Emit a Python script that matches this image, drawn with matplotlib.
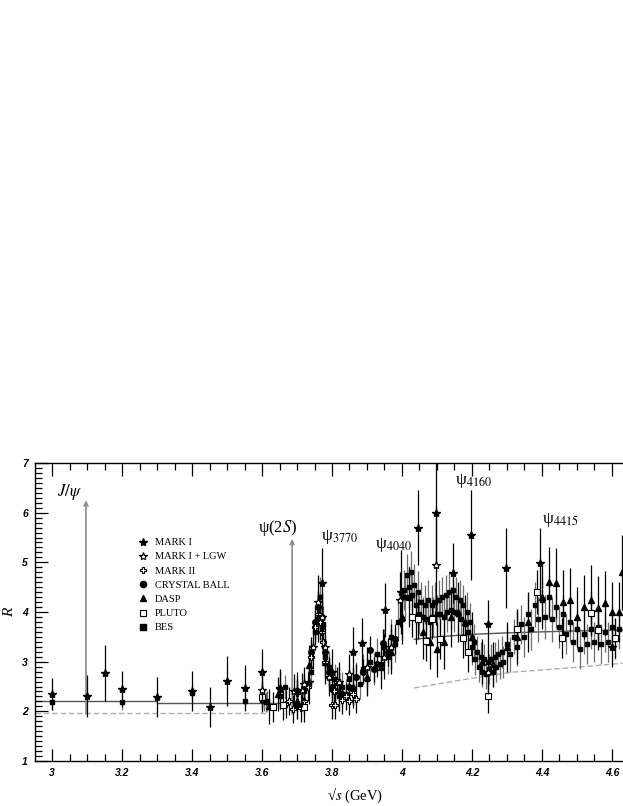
import matplotlib
matplotlib.use("Agg")
import matplotlib.pyplot as plt
from matplotlib.lines import Line2D
from matplotlib.ticker import FixedLocator, MultipleLocator, FixedFormatter

plt.rcParams['mathtext.fontset'] = 'stix'

# ---------------- data ----------------
mark1_E = [3.0, 3.1, 3.15, 3.2, 3.3, 3.4, 3.45, 3.5, 3.55, 3.6, 3.65, 3.70, 3.735,
           3.77, 3.80, 3.86, 3.885, 3.952, 3.997, 4.046, 4.097, 4.146, 4.196,
           4.246, 4.296, 4.394, 4.60]
mark1_R = [2.35, 2.31, 2.77, 2.45, 2.29, 2.41, 2.09, 2.61, 2.47, 2.79, 2.45, 2.40, 2.60,
           4.58, 2.80, 3.20, 3.37, 4.04, 4.40, 5.70, 6.00, 4.78, 5.55,
           3.75, 4.89, 4.99, 3.30]
mark1_err = [0.32, 0.42, 0.56, 0.37, 0.40, 0.40, 0.40, 0.50, 0.47, 0.47, 0.40, 0.40, 0.45,
             0.70, 0.45, 0.50, 0.50, 0.55, 0.85, 0.75, 1.20, 0.60, 0.90,
             0.50, 0.80, 0.70, 0.40]

lgw_E = [3.60, 3.65, 3.69, 3.714, 3.72, 3.745, 3.76, 3.772, 3.78, 3.79, 3.82, 3.85,
         3.90, 3.95, 3.97, 3.994, 4.097, 4.246]
lgw_R = [2.43, 2.47, 2.40, 2.43, 2.55, 3.30, 4.20, 3.90, 3.30, 2.70, 2.60, 2.75,
         2.90, 3.10, 3.30, 4.25, 4.94, 2.80]
lgw_err = [0.35, 0.35, 0.35, 0.35, 0.35, 0.45, 0.55, 0.50, 0.45, 0.40, 0.40, 0.40,
           0.40, 0.45, 0.45, 0.55, 1.20, 0.45]

mk2_E = [3.668, 3.676, 3.689, 3.700, 3.710, 3.720, 3.730, 3.740, 3.750, 3.760, 3.765,
         3.770, 3.775, 3.780, 3.790, 3.800, 3.805, 3.810, 3.815, 3.820, 3.830, 3.840,
         3.850, 3.860, 3.870]
mk2_R = [2.15, 2.20, 2.05, 2.36, 2.07, 2.20, 2.50, 3.10, 3.70, 3.95, 3.80,
         3.60, 3.40, 3.00, 2.70, 2.12, 2.40, 2.13, 2.60, 2.60, 2.23, 2.30,
         2.20, 2.35, 2.25]
mk2_err = [0.28, 0.28, 0.28, 0.28, 0.28, 0.28, 0.30, 0.32, 0.35, 0.38, 0.36,
           0.35, 0.34, 0.32, 0.30, 0.28, 0.28, 0.28, 0.30, 0.30, 0.28, 0.28,
           0.28, 0.28, 0.28]

cb_E = [3.70, 3.72, 3.74, 3.75, 3.76, 3.77, 3.78, 3.79, 3.80, 3.81, 3.83, 3.85,
        3.87, 3.89, 3.91, 3.92, 3.93, 3.945, 3.96, 3.98]
cb_R = [2.40, 2.50, 3.20, 3.80, 4.10, 3.90, 3.20, 2.80, 2.50, 2.40, 2.35, 2.50,
        2.70, 2.80, 3.24, 2.85, 2.95, 3.37, 3.20, 3.45]
cb_err = [0.25, 0.25, 0.30, 0.35, 0.35, 0.35, 0.30, 0.28, 0.25, 0.25, 0.25, 0.25,
          0.25, 0.25, 0.28, 0.25, 0.25, 0.28, 0.28, 0.30]

dasp_E = [3.62, 3.646, 3.70, 3.735, 3.76, 3.78, 3.82, 3.86, 3.90, 3.94, 3.97, 4.00,
          4.02, 4.04, 4.06, 4.08, 4.10, 4.12, 4.14, 4.16, 4.18, 4.20, 4.23, 4.26,
          4.30, 4.33, 4.36, 4.40, 4.42, 4.44, 4.46, 4.48, 4.50, 4.52, 4.54, 4.56,
          4.58, 4.60, 4.62, 4.628]
dasp_R = [2.10, 2.35, 2.20, 2.93, 3.90, 3.00, 2.40, 2.50, 2.70, 2.90, 3.20, 3.90,
          4.30, 3.90, 3.60, 3.40, 3.25, 3.40, 3.90, 4.00, 3.80, 3.50, 3.00, 2.95,
          3.30, 3.50, 3.80, 4.30, 4.60, 4.58, 4.20, 4.24, 3.90, 4.10, 4.24, 4.08,
          4.18, 4.00, 4.00, 4.80]
dasp_err = [0.35, 0.35, 0.35, 0.40, 0.50, 0.45, 0.40, 0.40, 0.40, 0.45, 0.45, 0.55,
            0.60, 0.55, 0.55, 0.55, 0.55, 0.55, 0.60, 0.60, 0.55, 0.50, 0.45, 0.45,
            0.50, 0.55, 0.60, 0.65, 0.70, 0.70, 0.65, 0.65, 0.60, 0.65, 0.70, 0.65,
            0.65, 0.60, 0.60, 0.75]

pluto_E = [3.60, 3.63, 3.66, 3.72, 4.03, 4.046, 4.07, 4.085, 4.11, 4.175, 4.189,
           4.246, 4.33, 4.386, 4.456, 4.54, 4.56, 4.61]
pluto_R = [2.29, 2.08, 2.13, 2.08, 3.90, 3.86, 3.42, 3.85, 3.45, 3.48, 3.20,
           2.31, 3.66, 4.40, 3.48, 3.97, 3.63, 3.48]
pluto_err = [0.30, 0.30, 0.30, 0.30, 0.40, 0.40, 0.40, 0.40, 0.40, 0.40, 0.40,
             0.35, 0.40, 0.45, 0.40, 0.45, 0.40, 0.40]

bes_E = [3.00, 3.20, 3.40, 3.55, 3.600, 3.605, 3.610, 3.615, 3.650, 3.666, 3.700,
         3.720, 3.740, 3.750, 3.760, 3.765, 3.770, 3.775, 3.780, 3.790, 3.800, 3.810,
         3.820, 3.830, 3.840, 3.850, 3.860, 3.870, 3.880, 3.890, 3.900, 3.910, 3.920,
         3.930, 3.940, 3.950, 3.960, 3.970, 3.980, 3.990, 4.000, 4.005, 4.010, 4.015,
         4.020, 4.025, 4.030, 4.035, 4.040, 4.045, 4.050, 4.055, 4.060, 4.065, 4.070,
         4.075, 4.080, 4.085, 4.090, 4.095, 4.100, 4.105, 4.110, 4.115, 4.120, 4.125,
         4.130, 4.135, 4.140, 4.145, 4.150, 4.155, 4.160, 4.165, 4.170, 4.175, 4.180,
         4.185, 4.190, 4.195, 4.200, 4.205, 4.210, 4.215, 4.220, 4.225, 4.230, 4.235,
         4.240, 4.245, 4.250, 4.255, 4.260, 4.265, 4.270, 4.275, 4.280, 4.285, 4.290,
         4.300, 4.310, 4.320, 4.330, 4.340, 4.350, 4.360, 4.370, 4.380, 4.390, 4.400,
         4.410, 4.420, 4.430, 4.440, 4.450, 4.460, 4.470, 4.480, 4.490, 4.500, 4.510,
         4.520, 4.530, 4.540, 4.550, 4.560, 4.570, 4.580, 4.590, 4.600, 4.610, 4.620]
bes_R = [2.19, 2.19, 2.37, 2.21, 2.22, 2.20, 2.18, 2.20, 2.30, 2.49, 2.10,
         2.40, 2.80, 3.60, 3.85, 4.30, 3.70, 3.75, 3.10, 2.90, 2.45, 2.65,
         2.30, 2.50, 2.35, 2.65, 2.45, 2.70, 2.55, 2.85, 2.65, 3.00, 2.85,
         3.15, 2.95, 3.30, 3.10, 3.50, 3.35, 3.80, 3.85, 4.45, 4.30, 4.75,
         4.50, 4.80, 4.35, 4.55, 4.15, 4.40, 3.95, 4.20, 3.90, 4.15, 3.85,
         4.25, 3.80, 4.15, 3.90, 4.20, 3.95, 4.25, 3.95, 4.30, 3.90, 4.35,
         4.00, 4.40, 4.05, 4.45, 4.00, 4.30, 3.95, 4.25, 3.85, 4.15, 3.75,
         4.00, 3.60, 3.80, 3.30, 3.40, 3.05, 3.20, 2.90, 3.10, 2.80, 3.05,
         2.75, 3.00, 2.85, 3.05, 2.80, 3.10, 2.90, 3.15, 2.95, 3.20, 3.00,
         3.35, 3.15, 3.50, 3.30, 3.75, 3.50, 3.95, 3.65, 4.15, 3.85, 4.25,
         3.90, 4.30, 3.85, 4.10, 3.70, 3.95, 3.55, 3.80, 3.40, 3.65, 3.25,
         3.55, 3.35, 3.65, 3.40, 3.70, 3.35, 3.60, 3.40, 3.70, 3.45, 3.65]
bes_err = [0.17, 0.17, 0.17, 0.17, 0.20, 0.20, 0.20, 0.20, 0.25, 0.25, 0.25,
           0.28, 0.30, 0.35, 0.40, 0.40, 0.40, 0.38, 0.35, 0.32, 0.30, 0.30,
           0.30, 0.30, 0.30, 0.30, 0.30, 0.30, 0.30, 0.30, 0.30, 0.30, 0.32,
           0.32, 0.32, 0.35, 0.35, 0.35, 0.35, 0.38, 0.40, 0.40, 0.42, 0.42,
           0.42, 0.42, 0.42, 0.42, 0.42, 0.42, 0.40, 0.40, 0.40, 0.40, 0.40,
           0.40, 0.40, 0.40, 0.40, 0.40, 0.40, 0.40, 0.40, 0.40, 0.40, 0.40,
           0.40, 0.40, 0.40, 0.40, 0.40, 0.40, 0.40, 0.40, 0.40, 0.40, 0.40,
           0.40, 0.38, 0.38, 0.36, 0.35, 0.32, 0.32, 0.30, 0.30, 0.30, 0.30,
           0.30, 0.30, 0.30, 0.30, 0.30, 0.30, 0.30, 0.30, 0.30, 0.32, 0.32,
           0.35, 0.35, 0.35, 0.38, 0.40, 0.40, 0.42, 0.42, 0.45, 0.45, 0.45,
           0.45, 0.45, 0.45, 0.42, 0.42, 0.42, 0.40, 0.40, 0.40, 0.40, 0.40,
           0.40, 0.40, 0.40, 0.40, 0.40, 0.40, 0.40, 0.40, 0.40, 0.40, 0.40]

# reference curves
solid_E1 = [2.95, 3.30]
solid_R1 = [2.20, 2.20]
solid_E2 = [3.30, 3.68]
solid_R2 = [2.17, 2.17]
solid_E3 = [4.035, 4.10, 4.20, 4.30, 4.40, 4.50, 4.65]
solid_R3 = [3.45, 3.50, 3.55, 3.58, 3.60, 3.62, 3.64]
dash_E1 = [2.95, 3.62]
dash_R1 = [1.97, 1.97]
dash_E2 = [4.034, 4.186, 4.317, 4.47, 4.65]
dash_R2 = [2.47, 2.65, 2.79, 2.87, 2.98]

# resonance arrows: (energy, tip R)
arrow_E = [3.097, 3.686]
arrow_top = [6.25, 5.47]
arrow_base = 1.95

xtick_vals = [3.0, 3.2, 3.4, 3.6, 3.8, 4.0, 4.2, 4.4, 4.6]
xtick_labels = ['3', '3.2', '3.4', '3.6', '3.8', '4', '4.2', '4.4', '4.6']
ytick_vals = [1, 2, 3, 4, 5, 6, 7]

legend_labels = ['MARK I', 'MARK I + LGW', 'MARK II', 'CRYSTAL BALL', 'DASP', 'PLUTO', 'BES']

# ---------------- figure ----------------
fig = plt.figure(figsize=(6.23, 8.06), dpi=100)
W, H = 623.0, 806.0
ax = fig.add_axes([35 / W, 45 / H, 594 / W, 298 / H])
ax.set_xlim(2.9514, 4.6486)
ax.set_ylim(1, 7)

gray = '#8a8a8a'
egray = '#6e6e6e'
lgray = '#b0b0b0'

# curves
ax.plot(solid_E1, solid_R1, color='#555555', lw=1.0, zorder=1)
ax.plot(solid_E2, solid_R2, color='#555555', lw=1.0, zorder=1)
ax.plot(solid_E3, solid_R3, color='#555555', lw=1.0, zorder=1)
ax.plot(dash_E1, dash_R1, color=lgray, lw=1.0, ls=(0, (4, 2)), zorder=1)
ax.plot(dash_E2, dash_R2, color=lgray, lw=1.0, ls=(0, (4, 2)), zorder=1)

# arrows
for e, top in zip(arrow_E, arrow_top):
    ax.annotate('', xy=(e, top), xytext=(e, arrow_base),
                arrowprops=dict(arrowstyle='->', color=gray, lw=1.2,
                                mutation_scale=7, shrinkA=0, shrinkB=0),
                zorder=2)

ekw = dict(capsize=0, elinewidth=0.9, ls='none')
ax.errorbar(bes_E, bes_R, yerr=bes_err, fmt='s', ms=3.4, mfc='k', mec='k',
            ecolor=egray, zorder=3, **ekw)
ax.errorbar(dasp_E, dasp_R, yerr=dasp_err, fmt='^', ms=4.2, mfc='k', mec='k',
            ecolor='k', zorder=4, **ekw)
ax.errorbar(cb_E, cb_R, yerr=cb_err, fmt='o', ms=4.0, mfc='k', mec='k',
            ecolor='k', zorder=4, **ekw)
ax.errorbar(mk2_E, mk2_R, yerr=mk2_err, fmt='P', ms=5.0, mfc='white', mec='k',
            mew=0.8, ecolor='k', zorder=4, **ekw)
ax.errorbar(pluto_E, pluto_R, yerr=pluto_err, fmt='s', ms=4.5, mfc='white', mec='k',
            mew=0.8, ecolor='k', zorder=4, **ekw)
ax.errorbar(lgw_E, lgw_R, yerr=lgw_err, fmt='*', ms=6.0, mfc='white', mec='k',
            mew=0.9, ecolor='k', zorder=5, **ekw)
ax.errorbar(mark1_E, mark1_R, yerr=mark1_err, fmt='*', ms=6.0, mfc='k', mec='k',
            ecolor='k', zorder=5, **ekw)

# annotations
serif = ['Liberation Serif', 'DejaVu Serif']
ax.text(3.014, 6.41, r'$J/\psi$', fontsize=12, ha='left', va='center', fontfamily=serif)
ax.text(3.589, 5.69, r'ψ(2$S$)', fontsize=12, ha='left', va='center', fontfamily=serif)
psi_E = [3.769, 3.923, 4.151, 4.400]
psi_R = [5.50, 5.34, 6.64, 5.86]
psi_names = ['3770', '4040', '4160', '4415']
for e, r, nm in zip(psi_E, psi_R, psi_names):
    ax.text(e, r, 'ψ$_{\\mathrm{%s}}$' % nm, fontsize=12.5, ha='left', va='center',
            fontfamily=serif)

# legend
handles = [
    Line2D([], [], ls='none', marker='*', ms=6, mfc='k', mec='k'),
    Line2D([], [], ls='none', marker='*', ms=6, mfc='white', mec='k', mew=0.9),
    Line2D([], [], ls='none', marker='P', ms=5, mfc='white', mec='k', mew=0.8),
    Line2D([], [], ls='none', marker='o', ms=4.5, mfc='k', mec='k'),
    Line2D([], [], ls='none', marker='^', ms=4.5, mfc='k', mec='k'),
    Line2D([], [], ls='none', marker='s', ms=4.5, mfc='white', mec='k', mew=0.8),
    Line2D([], [], ls='none', marker='s', ms=4.5, mfc='k', mec='k'),
]
leg = ax.legend(handles, legend_labels, loc='upper left',
                bbox_to_anchor=((139 - 35) / 594.0, (761 - 538) / 298.0),
                frameon=False, prop={'family': serif, 'size': 7.5},
                handlelength=0.8, handletextpad=0.7, labelspacing=0.47,
                borderpad=0.0, borderaxespad=0.0)

# axes / ticks
ax.xaxis.set_major_locator(FixedLocator(xtick_vals))
ax.xaxis.set_major_formatter(FixedFormatter(xtick_labels))
ax.xaxis.set_minor_locator(MultipleLocator(0.05))
ax.yaxis.set_major_locator(FixedLocator(ytick_vals))
ax.yaxis.set_minor_locator(MultipleLocator(0.1))
ax.tick_params(which='both', direction='in', top=True, right=False, width=0.9, color='k')
ax.tick_params(which='major', length=9, pad=5)
ax.tick_params(which='minor', length=5)
for lab in ax.get_xticklabels() + ax.get_yticklabels():
    lab.set_fontfamily(['Liberation Sans', 'DejaVu Sans'])
    lab.set_fontweight('bold')
    lab.set_fontstyle('italic')
    lab.set_fontsize(7.5)
for sp in ax.spines.values():
    sp.set_linewidth(1.0)

fig.text(10 / W, 1 - 612 / H, 'R', rotation=90, fontsize=11, fontstyle='italic',
         ha='center', va='center', fontfamily=serif)
fig.text(355 / W, 1 - 795 / H, '√$s$ (GeV)', fontsize=10.5, ha='center',
         va='center', fontfamily=serif)

fig.savefig('out.png', dpi=100)
